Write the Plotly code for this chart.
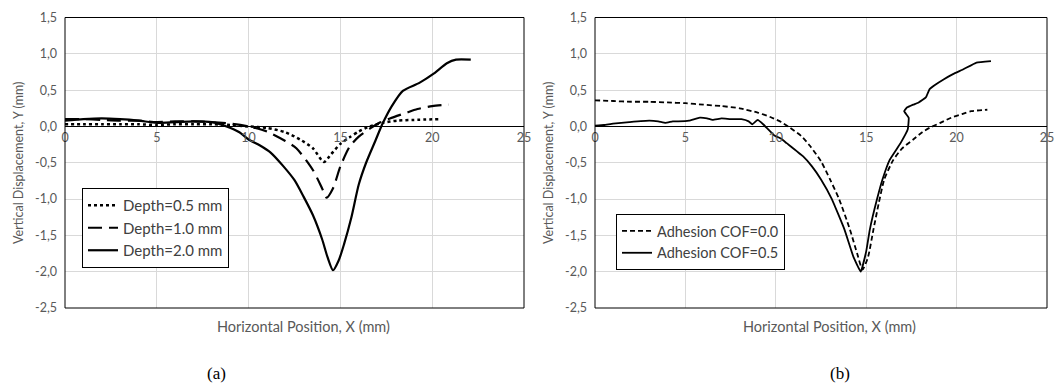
import plotly.graph_objects as go

# ---------------- data ----------------
d05_x = [0, 1, 2, 3, 4, 5, 6, 7, 8, 9, 10, 11, 12, 12.8, 13.5, 14.1, 14.5, 15, 15.5, 16, 16.6, 17.3, 18.1, 19, 20.4]
d05_y = [0.03, 0.03, 0.03, 0.03, 0.03, 0.02, 0.03, 0.03, 0.03, 0.02, 0.0, -0.02, -0.08, -0.18, -0.3, -0.49, -0.38, -0.24, -0.15, -0.07, 0.0, 0.05, 0.08, 0.09, 0.1]

d10_x = [0, 1, 2, 3, 4, 5, 6, 7, 8, 9, 10, 11, 12, 12.6, 13.5, 14.0, 14.25, 14.6, 15.0, 15.5, 16.0, 16.6, 17.2, 17.7, 18.5, 19.2, 20, 20.9]
d10_y = [0.1, 0.1, 0.09, 0.08, 0.08, 0.06, 0.07, 0.07, 0.06, 0.04, 0.0, -0.07, -0.2, -0.3, -0.6, -0.85, -0.98, -0.85, -0.55, -0.28, -0.14, -0.03, 0.06, 0.11, 0.18, 0.24, 0.28, 0.3]

d20_x = [0, 1, 2, 3, 4, 5, 6, 7, 8, 8.8, 9.5, 10, 10.6, 11.2, 11.9, 12.5, 13.0, 13.5, 14.0, 14.3, 14.6, 14.9, 15.2, 15.6, 16.0, 16.4, 16.9, 17.3, 17.8, 18.4, 19.3, 20.1, 20.8, 21.3, 22.1]
d20_y = [0.08, 0.1, 0.11, 0.1, 0.08, 0.05, 0.06, 0.07, 0.06, 0.0, -0.08, -0.18, -0.26, -0.36, -0.55, -0.74, -0.97, -1.22, -1.55, -1.8, -1.98, -1.85, -1.62, -1.25, -0.8, -0.5, -0.2, 0.04, 0.28, 0.49, 0.6, 0.73, 0.87, 0.92, 0.92]

c00_x = [0, 1, 2, 3, 4, 5, 6, 7, 8, 9, 9.7, 10.3, 10.8, 11.4, 11.9, 12.5, 13.0, 13.5, 14.1, 14.5, 14.8, 15.1, 15.4, 15.7, 16.0, 16.5, 17.0, 17.6, 18.1, 18.5, 19.1, 19.7, 20.3, 20.8, 21.7]
c00_y = [0.36, 0.35, 0.34, 0.34, 0.33, 0.32, 0.3, 0.28, 0.25, 0.19, 0.13, 0.06, -0.02, -0.13, -0.27, -0.48, -0.73, -1.0, -1.42, -1.75, -1.97, -1.8, -1.42, -1.05, -0.73, -0.46, -0.3, -0.18, -0.08, -0.02, 0.05, 0.12, 0.17, 0.21, 0.23]

c05_x = [0, 0.5, 1, 1.9, 3, 3.5, 3.9, 4.3, 4.6, 5.2, 5.8, 6.2, 6.5, 7.0, 7.5, 8.1, 8.5, 8.7, 9.0, 9.3, 9.9, 10.3, 10.6, 11.5, 12.0, 12.5, 13.1, 13.8, 14.3, 14.7, 15.0, 15.2, 15.6, 15.9, 16.3, 16.9, 17.3, 17.35, 17.1, 17.25, 17.6, 17.9, 18.3, 18.5, 18.8, 19.3, 19.8, 20.4, 21.1, 21.9]
c05_y = [0.01, 0.02, 0.04, 0.06, 0.08, 0.07, 0.05, 0.07, 0.07, 0.08, 0.12, 0.11, 0.09, 0.11, 0.1, 0.1, 0.07, 0.03, 0.09, 0.03, -0.12, -0.17, -0.23, -0.41, -0.55, -0.73, -1.0, -1.42, -1.8, -2.0, -1.72, -1.42, -1.0, -0.73, -0.46, -0.23, -0.04, 0.12, 0.21, 0.26, 0.3, 0.33, 0.4, 0.51, 0.57, 0.65, 0.72, 0.79, 0.88, 0.9]

x_tickvals = [0, 5, 10, 15, 20, 25]
x_ticktext = ["0", "5", "10", "15", "20", "25"]
y_tickvals = [1.5, 1.0, 0.5, 0.0, -0.5, -1.0, -1.5, -2.0, -2.5]
y_ticktext = ["1,5", "1,0", "0,5", "0,0", "-0,5", "-1,0", "-1,5", "-2,0", "-2,5"]

legend_a = ["Depth=0.5 mm", "Depth=1.0 mm", "Depth=2.0 mm"]
legend_b = ["Adhesion COF=0.0", "Adhesion COF=0.5"]
x_title = "Horizontal Position, X (mm)"
y_title = "Vertical Displacement, Y (mm)"

# ---------------- figure ----------------
W, H = 1059, 385
FONT = "Lato"
TXT = "#595959"
GRID = "#d9d9d9"

fig = go.Figure()

fig.add_trace(go.Scatter(x=d05_x, y=d05_y, mode="lines", name=legend_a[0],
                         line=dict(color="black", width=2.5, dash="dot", shape="spline", smoothing=0.7),
                         xaxis="x", yaxis="y", legend="legend", legendgroup="a1"))
fig.add_trace(go.Scatter(x=d10_x, y=d10_y, mode="lines", name=legend_a[1],
                         line=dict(color="black", width=2.2, dash="14px,7px", shape="spline", smoothing=0.7),
                         xaxis="x", yaxis="y", legend="legend", legendgroup="a2"))
fig.add_trace(go.Scatter(x=d20_x, y=d20_y, mode="lines", name=legend_a[2],
                         line=dict(color="black", width=2.2, shape="spline", smoothing=0.7),
                         xaxis="x", yaxis="y", legend="legend", legendgroup="a3"))

fig.add_trace(go.Scatter(x=c00_x, y=c00_y, mode="lines", name=legend_b[0],
                         line=dict(color="black", width=1.8, dash="5px,3px", shape="spline", smoothing=0.6),
                         xaxis="x2", yaxis="y2", legend="legend2"))
fig.add_trace(go.Scatter(x=c05_x, y=c05_y, mode="lines", name=legend_b[1],
                         line=dict(color="black", width=1.8, shape="spline", smoothing=0.3),
                         xaxis="x2", yaxis="y2", legend="legend2"))

ydom = [1 - 308 / H, 1 - 17.5 / H]
zero_pos = ydom[0] + (0 - (-2.5)) / 4.0 * (ydom[1] - ydom[0])

xcommon = dict(range=[0, 25], tickvals=x_tickvals, ticktext=x_ticktext, showgrid=True,
               gridcolor=GRID, gridwidth=1, zeroline=False, showline=True, linecolor="black",
               linewidth=1, ticks="", anchor="free", position=zero_pos, automargin=False,
               tickfont=dict(family=FONT, size=12.5, color=TXT), fixedrange=True)
ycommon = dict(range=[-2.5, 1.5], tickvals=y_tickvals, ticktext=y_ticktext, showgrid=True,
               gridcolor=GRID, gridwidth=1, zeroline=False, showline=False, ticks="",
               domain=ydom, automargin=False, ticklabelstandoff=7,
               tickfont=dict(family=FONT, size=12.5, color=TXT),
               title=dict(text=y_title, font=dict(family=FONT, size=12.5, color=TXT), standoff=8),
               fixedrange=True)

fig.update_layout(
    width=W, height=H,
    margin=dict(l=0, r=0, t=0, b=0, autoexpand=False),
    paper_bgcolor="white", plot_bgcolor="white",
    font=dict(family=FONT, color=TXT),
    xaxis=dict(domain=[65 / W, 524 / W], **xcommon),
    yaxis=dict(anchor="x", **ycommon),
    xaxis2=dict(domain=[595 / W, 1047 / W], **xcommon),
    yaxis2=dict(anchor="x2", **ycommon),
    legend=dict(x=82 / W, y=1 - 188 / H, xanchor="left", yanchor="top",
                bordercolor="black", borderwidth=1, bgcolor="white",
                font=dict(family=FONT, size=15, color="#404040"),
                tracegroupgap=3, traceorder="normal", itemwidth=30),
    legend2=dict(x=616 / W, y=1 - 214 / H, xanchor="left", yanchor="top",
                 bordercolor="black", borderwidth=1, bgcolor="white",
                 font=dict(family=FONT, size=14.5, color="#404040"), itemwidth=30),
    showlegend=True,
    hovermode=False,
)

# plot-area borders
for xr, yr in (("x domain", "y domain"), ("x2 domain", "y2 domain")):
    fig.add_shape(type="rect", xref=xr, yref=yr, x0=0, x1=1, y0=0, y1=1,
                  line=dict(color="black", width=1), layer="above")

# axis titles and captions
fig.add_annotation(text=x_title, xref="paper", yref="paper", x=303 / W, y=1 - 326 / H,
                   xanchor="center", yanchor="middle",
                   showarrow=False, font=dict(family=FONT, size=14.5, color=TXT))
fig.add_annotation(text=x_title, xref="paper", yref="paper", x=829 / W, y=1 - 326 / H,
                   xanchor="center", yanchor="middle",
                   showarrow=False, font=dict(family=FONT, size=14.5, color=TXT))
fig.add_annotation(text="(a)", xref="paper", yref="paper", x=216 / W, y=1 - 373 / H,
                   xanchor="center", yanchor="middle",
                   showarrow=False, font=dict(family="Liberation Serif", size=17, color="black"))
fig.add_annotation(text="(b)", xref="paper", yref="paper", x=840 / W, y=1 - 373 / H,
                   xanchor="center", yanchor="middle",
                   showarrow=False, font=dict(family="Liberation Serif", size=17, color="black"))

fig.write_html("out.html", config={"displayModeBar": False, "staticPlot": True},
               post_script="document.body.style.margin='0';document.body.style.overflow='hidden';")
